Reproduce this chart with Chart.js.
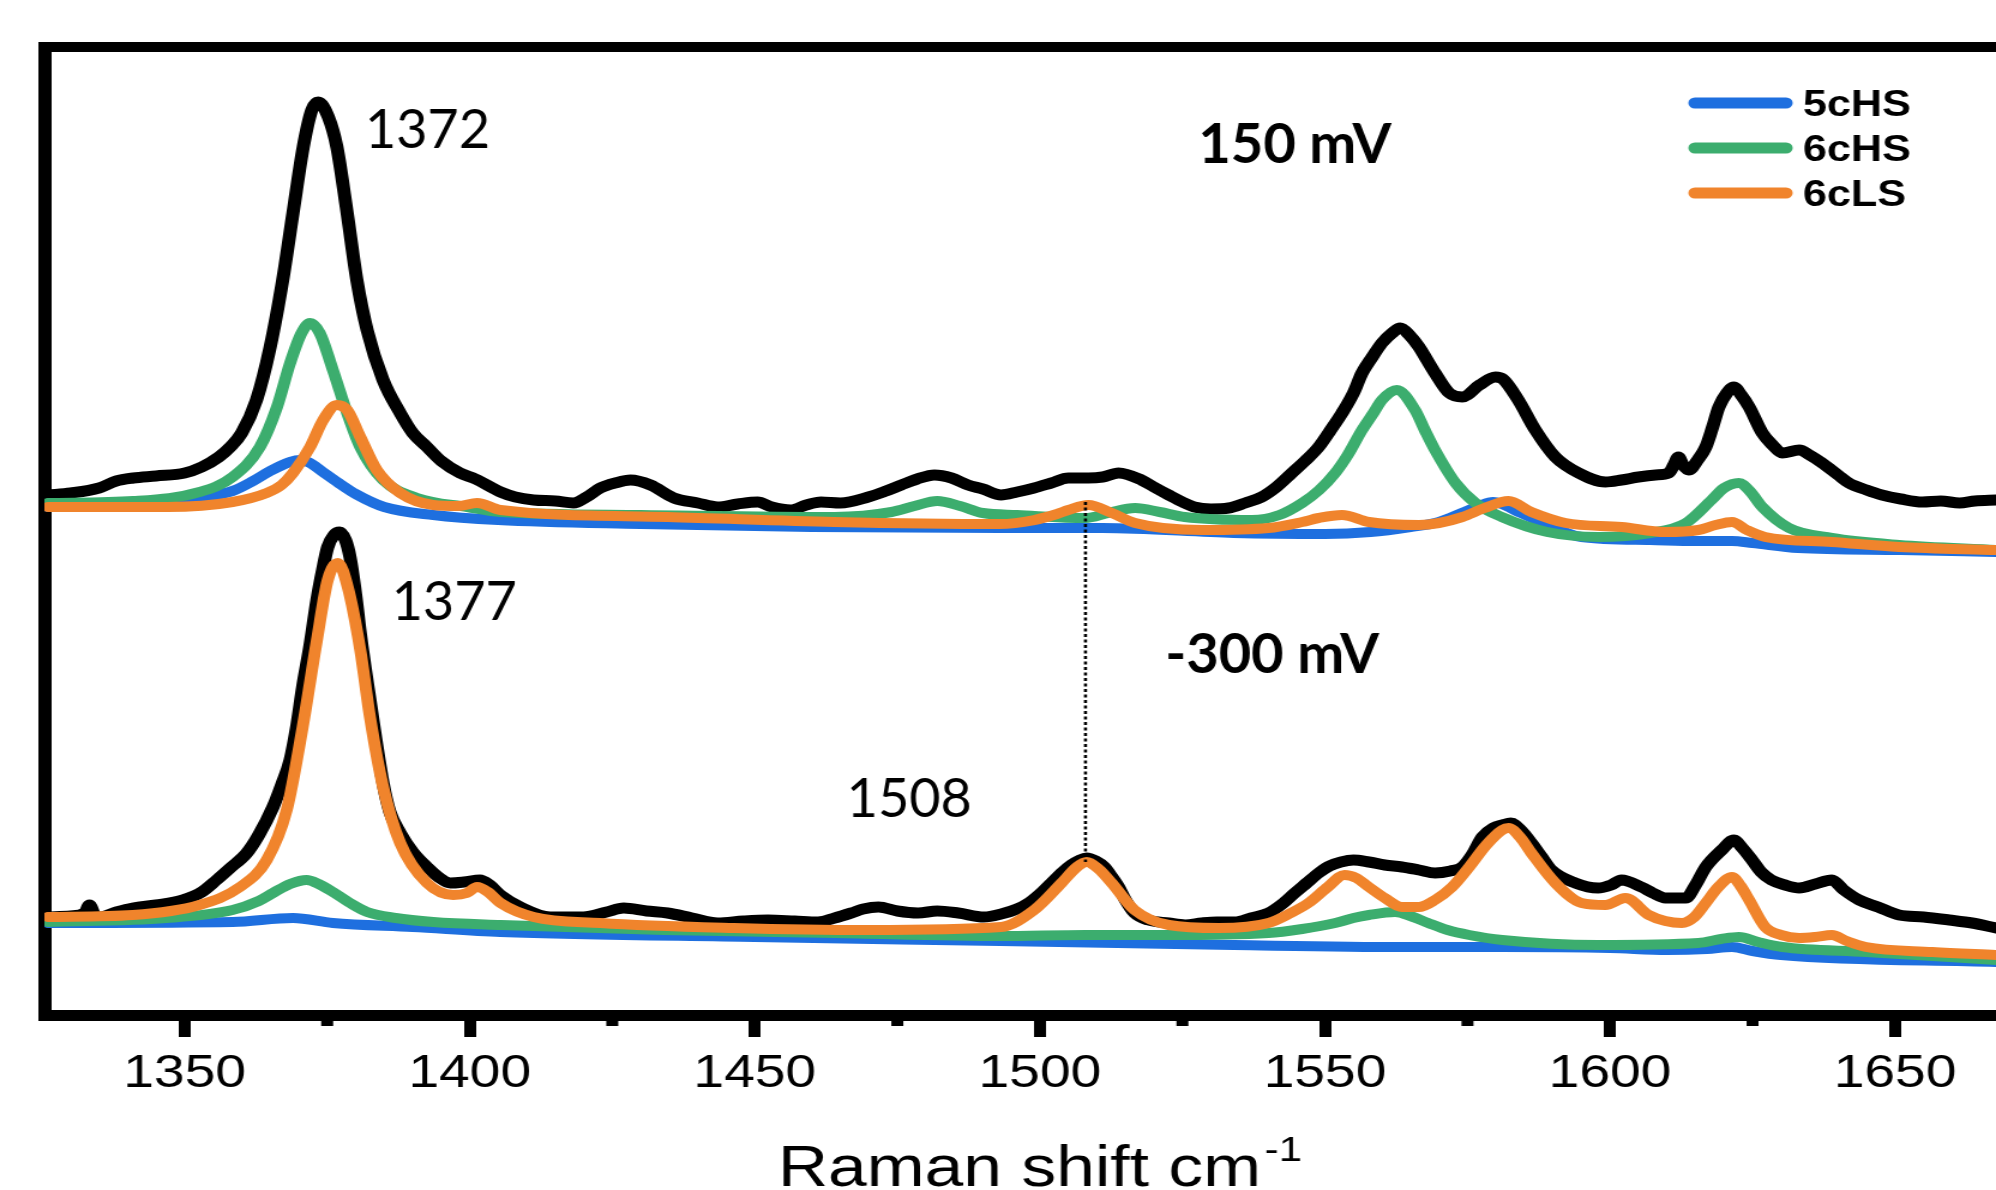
<!DOCTYPE html>
<html>
<head>
<meta charset="utf-8">
<script src="https://cdn.jsdelivr.net/npm/chart.js@4/dist/chart.umd.min.js"></script>
<style>
  html, body { margin: 0; padding: 0; background: #fff; overflow: hidden; }
  #wrap { width: 1996px; height: 1190px; overflow: hidden; }
  /* the original plot was stretched sideways; reproduce that */
  #spec { transform: scaleX(1.19952); transform-origin: 0 0; }
</style>
</head>
<body>
<div id="wrap"><canvas id="spec" width="1664" height="1190"></canvas></div>
<script>
const STRETCH = 1996 / 1664;

// x axis ticks (Raman shift, cm-1)
const majorTicks = [1350, 1400, 1450, 1500, 1550, 1600, 1650];
const minorTicks = [1375, 1425, 1475, 1525, 1575, 1625];

// ---- 150 mV (upper trace), intensity in arbitrary units ----
const obs150X = [1326, 1330, 1335, 1338, 1341, 1345, 1350, 1353, 1356, 1358, 1360, 1362.6, 1365, 1367.2, 1369, 1370.8, 1372.3, 1373.4, 1375.2, 1376.7, 1378.5, 1380.2, 1382, 1384.8, 1387.8, 1390, 1392.5, 1395, 1398.3, 1401, 1405.4, 1408, 1411.2, 1415, 1418.2, 1420.5, 1422.9, 1425.5, 1428.2, 1431.7, 1435.8, 1440, 1443.5, 1447, 1450.5, 1453, 1456.3, 1459, 1461.6, 1465, 1469.9, 1473, 1475.7, 1478.5, 1481.5, 1484.5, 1487.4, 1490, 1493.2, 1496, 1499, 1502, 1505, 1508.5, 1511, 1513.8, 1517.8, 1520, 1522.6, 1525, 1527.1, 1530, 1533.1, 1536, 1538.9, 1541.5, 1544.2, 1546.5, 1548.9, 1551, 1553, 1555, 1556.5, 1558.3, 1560, 1561.8, 1563.2, 1564.8, 1566.5, 1568, 1569.3, 1571.8, 1574.1, 1577.1, 1579.9, 1581.2, 1583.9, 1586.9, 1590.4, 1594.5, 1599.2, 1602, 1605, 1608, 1610.3, 1611.2, 1612, 1612.8, 1613.8, 1615.5, 1616.8, 1618, 1619.1, 1620.5, 1621.7, 1623, 1624.4, 1626.7, 1628.5, 1630.2, 1633.2, 1635, 1637.2, 1640, 1641.9, 1645, 1647.7, 1651, 1654.8, 1658, 1661.3, 1664, 1667.7];
const obs150Y = [52.0, 52.2, 52.7, 53.4, 53.7, 53.9, 54.2, 54.8, 55.8, 56.8, 58.2, 61.5, 66.8, 73.5, 80.2, 86.8, 90.5, 91.3, 89.8, 86.8, 80.2, 73.5, 68.5, 63.5, 60.2, 58.2, 56.8, 55.4, 54.2, 53.6, 52.3, 51.8, 51.5, 51.4, 51.2, 51.8, 52.7, 53.2, 53.5, 53.0, 51.7, 51.2, 50.8, 51.1, 51.3, 50.8, 50.5, 51.0, 51.3, 51.2, 51.8, 52.4, 53.0, 53.6, 54.0, 53.7, 53.0, 52.6, 52.0, 52.3, 52.7, 53.2, 53.7, 53.7, 53.8, 54.2, 53.5, 52.8, 52.0, 51.3, 50.8, 50.6, 50.7, 51.2, 51.8, 52.8, 54.2, 55.4, 56.8, 58.5, 60.2, 62.2, 64.2, 65.8, 67.2, 68.2, 68.7, 68.0, 66.8, 65.4, 64.2, 62.2, 61.8, 63.0, 63.8, 63.6, 61.5, 58.5, 55.8, 54.2, 53.3, 53.5, 53.8, 54.0, 54.2, 55.0, 55.8, 55.0, 54.5, 55.6, 56.8, 58.8, 60.8, 62.2, 62.8, 62.0, 60.8, 58.2, 57.0, 56.2, 56.5, 56.0, 55.2, 54.0, 53.2, 52.5, 52.0, 51.6, 51.3, 51.4, 51.2, 51.4, 51.5];

const hs5_150X = [1326, 1340, 1347, 1353, 1358.4, 1362, 1365, 1368.5, 1370.2, 1372, 1374, 1377, 1380, 1385, 1393.6, 1405, 1430, 1460, 1493, 1511, 1534, 1550, 1558, 1565, 1570, 1574, 1577, 1579.5, 1581, 1584, 1588, 1595, 1607, 1615, 1621.4, 1625, 1633, 1651, 1667.7];
const hs5_150Y = [50.8, 51.0, 51.3, 51.8, 52.4, 53.4, 54.4, 55.3, 55.5, 55.2, 54.4, 53.2, 52.1, 50.8, 50.0, 49.5, 49.1, 48.8, 48.7, 48.7, 48.2, 48.1, 48.3, 48.8, 49.3, 50.2, 50.9, 51.3, 51.1, 50.3, 49.3, 47.8, 47.5, 47.4, 47.4, 47.2, 46.7, 46.5, 46.3];

const hs6_150X = [1326, 1341, 1352.6, 1358.4, 1363.2, 1366.2, 1368.5, 1370.5, 1372, 1373.7, 1376, 1378.5, 1380.8, 1384.8, 1390.8, 1399.6, 1405.4, 1430, 1464, 1474, 1478, 1482, 1486, 1490, 1496, 1508, 1512, 1516.7, 1521, 1525.4, 1537.2, 1542, 1546, 1549, 1551.8, 1554, 1556.5, 1558.5, 1560, 1562.6, 1565.8, 1567.5, 1569.3, 1572.9, 1576.4, 1581, 1589, 1598, 1607, 1613.3, 1617.8, 1620, 1622.6, 1624.5, 1626.7, 1631.4, 1638.9, 1650.7, 1667.7];
const hs6_150Y = [51.2, 51.4, 52.3, 53.8, 56.8, 60.8, 65.2, 68.2, 69.2, 68.2, 64.5, 60.2, 56.8, 53.5, 51.7, 50.8, 50.3, 50.0, 49.8, 50.3, 50.9, 51.4, 50.9, 50.2, 50.0, 49.7, 50.2, 50.7, 50.3, 49.8, 49.5, 50.0, 51.2, 52.5, 54.2, 56.0, 58.5, 60.2, 61.5, 62.5, 60.5, 58.5, 56.5, 53.2, 51.2, 49.8, 48.3, 47.8, 48.2, 49.2, 51.5, 52.7, 53.2, 52.4, 50.8, 48.7, 47.7, 47.0, 46.5];

const ls6_150X = [1326, 1347, 1358.4, 1364.4, 1367, 1369, 1372, 1374.3, 1376.7, 1378.5, 1380.8, 1383.7, 1387.8, 1393.6, 1398, 1401.3, 1405.4, 1434.7, 1463.9, 1493, 1499, 1503, 1505, 1508.5, 1512.6, 1516.7, 1528.4, 1540.1, 1546, 1548.9, 1553, 1557.7, 1566.5, 1570, 1574.1, 1578, 1582.2, 1586.2, 1592.2, 1602, 1609.7, 1615.5, 1618.5, 1621.4, 1624, 1627.2, 1638.9, 1650.7, 1667.7];
const ls6_150Y = [50.8, 50.8, 51.3, 52.2, 53.0, 54.2, 56.8, 59.5, 61.0, 60.5, 57.8, 54.5, 52.2, 51.0, 50.9, 51.2, 50.5, 49.8, 49.3, 49.1, 49.5, 50.1, 50.5, 51.0, 50.2, 49.2, 48.5, 48.7, 49.3, 49.7, 50.0, 49.3, 49.0, 49.2, 49.8, 50.7, 51.4, 50.3, 49.2, 48.8, 48.3, 48.5, 49.0, 49.3, 48.5, 47.8, 47.3, 46.8, 46.5];

// ---- -300 mV (lower trace) ----
const obs300X = [1326, 1330, 1332.5, 1333.3, 1334.2, 1335.1, 1338, 1340.9, 1345, 1349.7, 1353, 1355.6, 1358, 1360.9, 1363, 1365.5, 1367, 1368.5, 1369.7, 1370.7, 1372, 1373.2, 1374.2, 1375.1, 1376.2, 1377.2, 1378.2, 1379, 1380, 1380.8, 1382.5, 1384.8, 1386, 1387.8, 1390, 1392.5, 1394.5, 1396.6, 1399, 1401.8, 1403.5, 1405.4, 1408.9, 1414.1, 1419.9, 1424, 1427, 1431, 1434.7, 1439, 1443.5, 1448, 1452.3, 1457, 1461.1, 1464, 1466.9, 1469, 1471.7, 1475, 1478.6, 1482, 1485.7, 1490.2, 1493.2, 1496, 1498, 1500, 1502, 1504, 1505.5, 1507, 1508.2, 1509.8, 1511.3, 1512.5, 1513.8, 1515, 1516.6, 1519, 1522.6, 1525.5, 1528.4, 1531, 1534.2, 1537, 1540.1, 1542.5, 1544.7, 1546.8, 1548.9, 1550.8, 1552.8, 1555, 1557.7, 1560.5, 1563.5, 1566.5, 1569.3, 1572, 1574.1, 1575.8, 1577.6, 1579.5, 1581.1, 1582.6, 1584.5, 1586.2, 1588, 1589.7, 1593.9, 1597.9, 1600.2, 1602, 1605.5, 1607.5, 1609.7, 1613.3, 1615, 1616.8, 1619.6, 1621.7, 1623.2, 1624.9, 1626.5, 1628.3, 1630.7, 1633.2, 1636, 1638.9, 1641, 1643.7, 1647, 1650.7, 1655, 1659.5, 1663.5, 1667.7];
const obs300Y = [9.8, 9.9, 10.2, 11.0, 10.0, 9.8, 10.3, 10.7, 11.0, 11.5, 12.3, 13.5, 14.7, 16.2, 18.0, 20.8, 23.0, 25.5, 29.0, 32.8, 37.0, 41.5, 44.5, 46.8, 48.0, 48.3, 47.5, 45.8, 42.0, 38.2, 31.5, 23.2, 20.3, 18.2, 16.3, 14.8, 13.8, 13.2, 13.3, 13.5, 13.0, 12.0, 10.8, 9.8, 9.8, 10.3, 10.7, 10.4, 10.2, 9.7, 9.2, 9.4, 9.5, 9.4, 9.3, 9.7, 10.2, 10.6, 10.8, 10.4, 10.2, 10.4, 10.2, 9.8, 10.1, 10.6, 11.2, 12.1, 13.2, 14.3, 15.0, 15.5, 15.7, 15.4, 14.8, 13.9, 12.8, 11.5, 10.2, 9.5, 9.2, 9.0, 9.2, 9.3, 9.3, 9.7, 10.2, 11.1, 12.2, 13.2, 14.2, 14.9, 15.3, 15.5, 15.3, 15.0, 14.8, 14.5, 14.2, 14.4, 14.8, 16.0, 17.8, 18.7, 19.0, 19.2, 18.4, 17.2, 15.8, 14.5, 13.2, 12.7, 13.0, 13.5, 12.8, 12.2, 11.7, 11.7, 13.0, 14.8, 16.5, 17.5, 16.7, 15.5, 14.3, 13.5, 13.0, 12.7, 13.1, 13.5, 12.5, 11.5, 10.8, 10.0, 9.8, 9.5, 9.2, 8.7];

const hs5_300X = [1326, 1358.4, 1369, 1376, 1390, 1405.4, 1450, 1493, 1534, 1563.5, 1581, 1600, 1610, 1617, 1621.4, 1625, 1630, 1667.7];
const hs5_300Y = [9.2, 9.3, 9.7, 9.2, 8.8, 8.3, 7.8, 7.4, 7.0, 6.8, 6.8, 6.7, 6.5, 6.6, 6.8, 6.4, 6.0, 5.3];

const hs6_300X = [1326, 1346.8, 1358.4, 1363, 1365.5, 1368.5, 1371.4, 1373.5, 1376, 1379, 1382, 1387, 1393.6, 1405.4, 1434, 1464, 1493, 1508, 1522, 1540.1, 1546, 1551.8, 1555, 1557.7, 1562.3, 1565, 1568.1, 1571.5, 1575.3, 1581.1, 1597.9, 1615.5, 1619.5, 1622.6, 1626, 1630.2, 1644.9, 1667.7];
const hs6_300Y = [9.3, 9.7, 10.5, 11.4, 12.2, 13.1, 13.5, 13.1, 12.3, 11.2, 10.3, 9.7, 9.3, 9.0, 8.5, 8.2, 7.9, 8.0, 8.0, 8.2, 8.6, 9.2, 9.7, 10.0, 10.3, 9.9, 9.2, 8.5, 8.0, 7.5, 7.0, 7.2, 7.6, 7.8, 7.3, 6.8, 6.3, 5.5];

const ls6_300X = [1326, 1340.9, 1352.6, 1359.7, 1364.4, 1367.9, 1370.7, 1373.2, 1375.1, 1376.9, 1378.6, 1380.8, 1382.5, 1384.8, 1387.8, 1392.5, 1397.1, 1399.5, 1401.3, 1403.2, 1405.4, 1411.2, 1422.9, 1446.3, 1469.9, 1493.2, 1499, 1503.8, 1506.5, 1508.2, 1510.3, 1512.6, 1516.6, 1522.6, 1531.4, 1540.1, 1544, 1547.1, 1550.5, 1553.4, 1555.5, 1557.7, 1560.5, 1563.5, 1566.5, 1569.3, 1572.3, 1575.3, 1578.3, 1581.1, 1582.2, 1584.2, 1586.2, 1590.4, 1595, 1599.2, 1602.7, 1606.8, 1609.7, 1612.6, 1614.8, 1616.8, 1619, 1621.4, 1622.9, 1624.4, 1627.2, 1630, 1633.2, 1636, 1638.9, 1641.5, 1644.9, 1656.5, 1667.7];
const ls6_300Y = [9.8, 10.0, 11.0, 12.8, 15.5, 20.5, 28.8, 37.5, 43.5, 45.2, 42.8, 36.5, 29.8, 22.8, 17.2, 13.2, 12.0, 12.2, 12.8, 12.3, 11.2, 9.8, 9.2, 8.7, 8.5, 8.8, 10.5, 13.2, 14.8, 15.3, 14.6, 13.2, 10.5, 9.0, 8.7, 9.2, 10.2, 11.2, 12.8, 14.0, 13.7, 12.8, 11.7, 10.8, 10.8, 11.5, 12.8, 14.8, 17.0, 18.5, 18.7, 17.8, 16.2, 13.2, 11.2, 11.0, 11.7, 10.0, 9.4, 9.2, 9.8, 11.2, 12.8, 13.8, 12.9, 11.5, 8.8, 8.0, 7.7, 7.8, 8.0, 7.4, 6.8, 6.3, 6.0];

// dotted guide at the 1508 band
const guideX = [1508, 1508];
const guideY = [51.3, 15.3];

const BLUE = '#1e6fdf';
const GREEN = '#3cad6e';
const ORANGE = '#f0842c';

function pts(xs, ys) {
  return xs.map((x, i) => ({ x: x, y: ys[i] }));
}

function curve(label, xs, ys, color, width, order) {
  return {
    label: label,
    data: pts(xs, ys),
    borderColor: color,
    borderWidth: width,
    pointRadius: 0,
    fill: false,
    cubicInterpolationMode: 'monotone',
    borderJoinStyle: 'round',
    borderCapStyle: 'round',
    order: order
  };
}

const datasets = [
  curve('150 mV', obs150X, obs150Y, '#000', 11, 4),
  curve('5cHS', hs5_150X, hs5_150Y, BLUE, 10, 3),
  curve('6cHS', hs6_150X, hs6_150Y, GREEN, 10, 2),
  curve('6cLS', ls6_150X, ls6_150Y, ORANGE, 10, 1),
  curve('-300 mV', obs300X, obs300Y, '#000', 11, 4),
  curve('5cHS', hs5_300X, hs5_300Y, BLUE, 10, 3),
  curve('6cHS', hs6_300X, hs6_300Y, GREEN, 10, 2),
  curve('6cLS', ls6_300X, ls6_300Y, ORANGE, 10, 1),
  {
    label: 'guide',
    data: pts(guideX, guideY),
    borderColor: '#000',
    borderWidth: 2.6,
    borderDash: [3, 2.5],
    pointRadius: 0,
    tension: 0,
    order: 0
  }
];

const legendRows = [
  { label: '5cHS', color: BLUE, y: 103 },
  { label: '6cHS', color: GREEN, y: 148 },
  { label: '6cLS', color: ORANGE, y: 193 }
];

// annotation anchors in data units (left edge, text baseline)
const notes = [
  { text: '1372', x: 1381.6, y: 86.7, bold: false },
  { text: '1377', x: 1386.3, y: 39.5, bold: false },
  { text: '1508', x: 1466.1, y: 19.8, bold: false },
  { text: '150 mV', x: 1527.8, y: 85.2, bold: true },
  { text: '-300 mV', x: 1522.0, y: 34.2, bold: true }
];

const extras = {
  id: 'extras',
  afterDraw(chart) {
    const ctx = chart.ctx;
    const x = chart.scales.x;
    const y = chart.scales.y;
    ctx.save();
    ctx.fillStyle = '#000';

    // minor ticks
    minorTicks.forEach(v => {
      const px = x.getPixelForValue(v);
      ctx.fillRect(px - 5, y.bottom, 10, 11);
    });

    // axis title with superscript
    const mainFont = '58px "Liberation Sans", Arial, sans-serif';
    const supFont = '35px "Liberation Sans", Arial, sans-serif';
    ctx.textBaseline = 'alphabetic';
    ctx.textAlign = 'left';
    ctx.font = mainFont;
    const main = 'Raman shift cm';
    const wMain = ctx.measureText(main).width;
    ctx.font = supFont;
    const wSup = ctx.measureText('-1').width;
    const cx = x.getPixelForValue(1500);
    const left = cx - (wMain + 3 + wSup) / 2;
    ctx.font = mainFont;
    ctx.fillText(main, left, 1186);
    ctx.font = supFont;
    ctx.fillText('-1', left + wMain + 3, 1161);

    // legend
    ctx.lineCap = 'round';
    ctx.lineWidth = 11;
    ctx.font = 'bold 36px "Liberation Sans", Arial, sans-serif';
    legendRows.forEach(r => {
      ctx.strokeStyle = r.color;
      ctx.beginPath();
      ctx.moveTo(1413, r.y);
      ctx.lineTo(1489, r.y);
      ctx.stroke();
      ctx.fillStyle = '#000';
      ctx.fillText(r.label, 1503, r.y + 12.5);
    });

    // annotations, drawn without the sideways stretch
    ctx.scale(1 / STRETCH, 1);
    notes.forEach(n => {
      ctx.font = (n.bold ? 'bold 56px ' : '54px ') + 'Lato, "Open Sans", sans-serif';
      ctx.fillStyle = '#000';
      ctx.fillText(n.text, x.getPixelForValue(n.x) * STRETCH, y.getPixelForValue(n.y));
    });
    ctx.restore();
  }
};

new Chart(document.getElementById('spec'), {
  type: 'line',
  data: { datasets: datasets },
  options: {
    responsive: false,
    animation: false,
    devicePixelRatio: 1,
    layout: { padding: 0 },
    plugins: {
      legend: { display: false },
      tooltip: { enabled: false }
    },
    scales: {
      x: {
        type: 'linear',
        position: 'bottom',
        min: 1325.4,
        max: 1667.7,
        afterFit: s => { s.height = 175; },
        afterBuildTicks: s => { s.ticks = majorTicks.map(v => ({ value: v })); },
        ticks: {
          includeBounds: false,
          autoSkip: false,
          maxRotation: 0,
          padding: 10,
          color: '#000',
          font: { family: '"Liberation Sans", Arial, sans-serif', size: 46 },
          callback: v => String(v)
        },
        grid: {
          display: true,
          drawOnChartArea: false,
          drawTicks: true,
          tickLength: 22,
          tickWidth: 10,
          tickColor: '#000',
          lineWidth: 10,
          color: '#000'
        },
        border: { display: true, width: 11, color: '#000' }
      },
      xTop: {
        type: 'linear',
        position: 'top',
        min: 1325.4,
        max: 1667.7,
        afterFit: s => { s.height = 47; },
        ticks: { display: false },
        grid: { display: true, drawOnChartArea: false, drawTicks: false },
        border: { display: true, width: 10, color: '#000' }
      },
      y: {
        type: 'linear',
        position: 'left',
        min: 0,
        max: 96.8,
        afterFit: s => { s.width = 37; },
        ticks: { display: false },
        grid: { display: true, drawOnChartArea: false, drawTicks: false },
        border: { display: true, width: 11, color: '#000' }
      }
    }
  },
  plugins: [extras]
});
</script>
</body>
</html>
